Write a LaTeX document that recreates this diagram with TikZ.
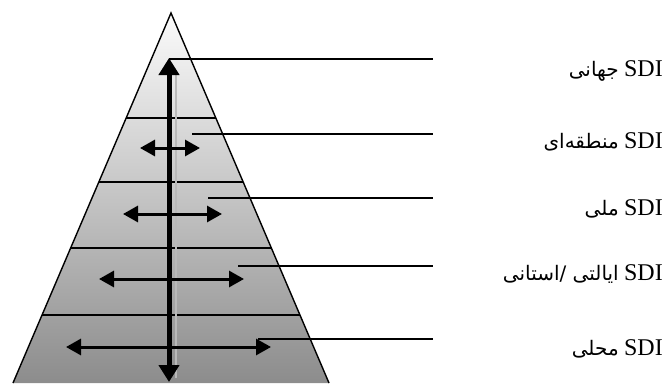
\documentclass[tikz,border=0pt]{standalone}
\usepackage{fontspec}
\setmainfont{Liberation Serif}
\newfontfamily\sdifont{Liberation Serif}
\newfontfamily\arabicfont[Script=Arabic]{DejaVu Sans}
\TeXXeTstate=1
\usetikzlibrary{arrows.meta,positioning}

\begin{document}
\begin{tikzpicture}[
    x=1pt, y=-1pt,
    band/.style={black, line width=1.4pt},
    leader/.style={black, line width=2pt},
    vaxis/.style={line width=5pt, {Triangle[length=17pt,width=20pt]}-{Triangle[length=17pt,width=20pt]}},
    harrow/.style={line width=3pt, {Triangle[length=15pt,width=16pt]}-{Triangle[length=15pt,width=16pt]}},
    levellabel/.style={anchor=base east, inner sep=0pt},
    sdi/.style={levellabel, font=\sdifont\fontsize{24pt}{26pt}\selectfont},
    fa/.style={levellabel, font=\arabicfont\fontsize{20pt}{22pt}\selectfont}
]
\useasboundingbox (0,0) rectangle (664,383);

% Pyramid with shaded bands
\coordinate (apex) at (171,13);
\coordinate (base-l) at (13,383);
\coordinate (base-r) at (329,383);
\begin{scope}
  \clip (apex) -- (base-r) -- (base-l) -- cycle;
  \shade[top color=gray!3, bottom color=black!45] (0,13) rectangle (340,383);
  \foreach \y in {118,182,248,315}
    \draw[band] (0,\y) -- (340,\y);
\end{scope}
\draw[line width=1.4pt] (base-l) -- (apex) -- (base-r);

% Vertical axis with its shadow
\draw[gray!55, line width=2.5pt] (176,72) -- (176,378);
\coordinate (axis-top) at (169,58);
\coordinate (axis-bot) at (169,382);
\draw[vaxis] (axis-bot) -- (axis-top);

% Horizontal arrows, one per level
\foreach \y/\a/\b in {148/140/200, 214/123/222, 279/99/244, 347/66/271}
  \draw[harrow] (\a,\y) -- (\b,\y);

% Level labels: SDI, then the Persian name to its left
\foreach \n/\y in {global/76, regional/148, national/215, state/280, local/355}
  \node[sdi] (sdi-\n) at (663,\y) {SDI};
\node[fa, left=5pt of sdi-global.base west, anchor=base east] (lvl-global) {\beginR جهانی\endR};
\node[fa, left=5pt of sdi-regional.base west, anchor=base east] (lvl-regional) {\beginR منطقه‌ای\endR};
\node[fa, left=5pt of sdi-national.base west, anchor=base east] (lvl-national) {\beginR ملی\endR};
\node[fa, left=5pt of sdi-state.base west, anchor=base east] (lvl-state) {\beginR ایالتی /استانی\endR};
\node[fa, left=5pt of sdi-local.base west, anchor=base east] (lvl-local) {\beginR محلی\endR};

% Leader lines
\coordinate (lead-global)   at (169,59);
\coordinate (lead-regional) at (192,134);
\coordinate (lead-national) at (208,198);
\coordinate (lead-state)    at (238,266);
\coordinate (lead-local)    at (258,339);
\foreach \n in {global, regional, national, state, local}
  \draw[leader] (lead-\n) -- (lead-\n -| 433,0);

\end{tikzpicture}
\end{document}
